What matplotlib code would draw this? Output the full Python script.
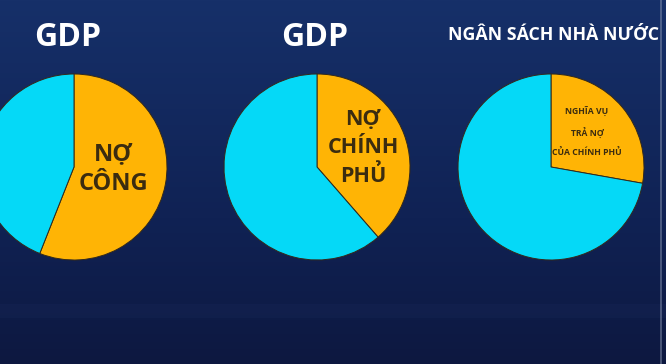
import numpy as np
import matplotlib.pyplot as plt

# pie data (share of the orange slice, rest is cyan)
titles = ['GDP', 'GDP', 'NGÂN SÁCH NHÀ NƯỚC']
slice_labels = ['NỢ\nCÔNG', 'NỢ\nCHÍNH\nPHỦ', 'NGHĨA VỤ\nTRẢ NỢ\nCỦA CHÍNH PHỦ']
debt_share = [56, 38.6, 27.8]
other_share = [44, 61.4, 72.2]

W, H = 666, 364
orange = '#ffb405'
cyan = '#05d9f7'

plt.rcParams['font.family'] = ['Open Sans', 'DejaVu Sans']

fig = plt.figure(figsize=(W / 100, H / 100), dpi=100)
ax = fig.add_axes([0, 0, 1, 1])

# pixel positions (image coords, y down)
centers = [(74, 167), (317, 167), (551, 167)]
radius = 93

for i in range(3):
    cx, cy = centers[i]
    ax.pie([debt_share[i], other_share[i]], colors=[orange, cyan],
           startangle=90, counterclock=False, center=(cx, H - cy),
           radius=radius, wedgeprops=dict(edgecolor='#33291a', linewidth=0.7))

# background gradient
top = np.array([22, 48, 105]) / 255
mid = np.array([16, 34, 84]) / 255
bot = np.array([13, 24, 64]) / 255
t = np.linspace(0, 1, 200)[:, None]
grad = np.where(t < 0.6, top + (mid - top) * (t / 0.6), mid + (bot - mid) * ((t - 0.6) / 0.4))
ax.imshow(grad[:, None, :], extent=(0, W, 0, H), aspect='auto', zorder=-10)
# faint light band near the horizon
ax.axhspan(H - 318, H - 304, color='#4a6ab0', alpha=0.05, lw=0, zorder=-9)
ax.axvline(661, color='#9aa6c0', lw=1.2, alpha=0.5, zorder=-5)

ax.set_xlim(0, W)
ax.set_ylim(0, H)
ax.set_aspect('auto')
ax.axis('off')

# titles
ax.text(68, H - 37, titles[0], color='white', fontsize=23, fontweight='bold', ha='center', va='center')
ax.text(315, H - 37, titles[1], color='white', fontsize=23, fontweight='bold', ha='center', va='center')
ax.text(554, H - 35, titles[2], color='white', fontsize=12.8, fontweight='bold', ha='center', va='center')

# labels inside the orange slices
txt = '#3b2c10'
ax.text(113, H - 169, slice_labels[0], color=txt, fontsize=17, fontweight='bold',
        ha='center', va='center', linespacing=1.3)
ax.text(363, H - 148, slice_labels[1], color=txt, fontsize=15.5, fontweight='bold',
        ha='center', va='center', linespacing=1.45)
ax.text(587, H - 132, slice_labels[2], color=txt, fontsize=6.2, fontweight='bold',
        ha='center', va='center', linespacing=2.2)

fig.savefig('out.png', dpi=100)
